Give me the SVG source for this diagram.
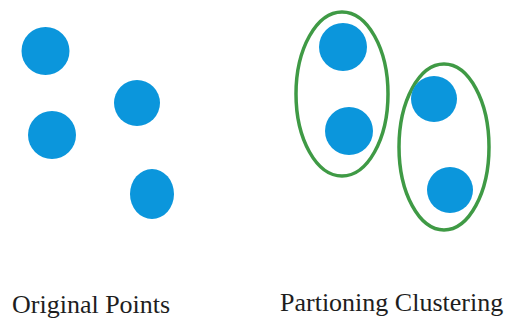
<svg xmlns="http://www.w3.org/2000/svg" width="515" height="320" viewBox="0 0 515 320">
<style>
.pt{fill:#0b96dc}
.cl{fill:none;stroke:#3f9a45;stroke-width:3.5}
.lb{font-family:"Liberation Serif","Times New Roman",serif;font-size:26px;fill:#1e1e1e}
</style>
<rect width="515" height="320" fill="#ffffff"/>
<g id="original-points">
<circle class="pt" cx="45.5" cy="51" r="24"/>
<circle class="pt" cx="52" cy="135" r="24"/>
<circle class="pt" cx="137" cy="103" r="23"/>
<ellipse class="pt" cx="152" cy="194" rx="22" ry="25"/>
</g>
<g id="cluster-1">
<ellipse class="cl" cx="342" cy="94" rx="46" ry="82"/>
<circle class="pt" cx="343" cy="47" r="24"/>
<circle class="pt" cx="349" cy="131" r="24"/>
</g>
<g id="cluster-2">
<ellipse class="cl" cx="444" cy="147" rx="45" ry="83"/>
<circle class="pt" cx="434" cy="99" r="23"/>
<circle class="pt" cx="450" cy="190" r="23"/>
</g>
<g id="labels">
<text class="lb" x="12" y="313">Original Points</text>
<text class="lb" x="280" y="311">Partioning Clustering</text>
</g>
</svg>
